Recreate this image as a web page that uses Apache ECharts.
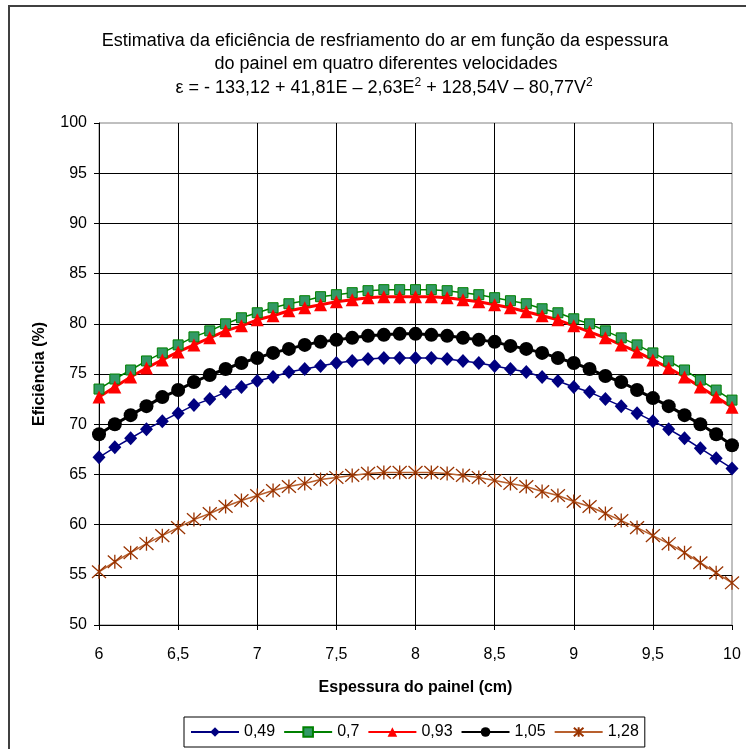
<!DOCTYPE html>
<html>
<head>
<meta charset="utf-8">
<style>
html,body{margin:0;padding:0;background:#fff;}
#chart{width:746px;height:749px;}
</style>
<script src="https://cdn.jsdelivr.net/npm/echarts@6/dist/echarts.min.js"></script>
</head>
<body>
<div id="chart"></div>
<script>
var thickness = [6.0,6.1,6.2,6.3,6.4,6.5,6.6,6.7,6.8,6.9,7.0,7.1,7.2,7.3,7.4,7.5,7.6,7.7,7.8,7.9,8.0,8.1,8.2,8.3,8.4,8.5,8.6,8.7,8.8,8.9,9.0,9.1,9.2,9.3,9.4,9.5,9.6,9.7,9.8,9.9,10.0];
var seriesNames = ['0,49','0,7','0,93','1,05','1,28'];
var v049 = [66.7,67.7,68.6,69.5,70.3,71.1,71.9,72.5,73.2,73.7,74.3,74.7,75.2,75.5,75.8,76.1,76.3,76.5,76.6,76.6,76.6,76.6,76.5,76.3,76.1,75.8,75.5,75.2,74.7,74.3,73.7,73.2,72.5,71.8,71.1,70.3,69.5,68.6,67.6,66.6,65.6];
var v070 = [73.5,74.5,75.4,76.3,77.1,77.9,78.7,79.3,80.0,80.6,81.1,81.6,82.0,82.3,82.7,82.9,83.1,83.3,83.4,83.4,83.4,83.4,83.3,83.1,82.9,82.6,82.3,82.0,81.5,81.1,80.5,80.0,79.3,78.6,77.9,77.1,76.3,75.4,74.4,73.4,72.4];
var v093 = [72.7,73.7,74.7,75.6,76.4,77.2,77.9,78.6,79.3,79.8,80.4,80.8,81.3,81.6,81.9,82.2,82.4,82.6,82.7,82.7,82.7,82.7,82.6,82.4,82.2,81.9,81.6,81.2,80.8,80.4,79.8,79.2,78.6,77.9,77.2,76.4,75.6,74.7,73.7,72.7,71.7];
var v105 = [69.0,70.0,70.9,71.8,72.7,73.4,74.2,74.9,75.5,76.1,76.6,77.1,77.5,77.9,78.2,78.4,78.6,78.8,78.9,79.0,79.0,78.9,78.8,78.6,78.4,78.2,77.8,77.5,77.1,76.6,76.1,75.5,74.8,74.2,73.4,72.6,71.8,70.9,70.0,69.0,67.9];
var v128 = [55.3,56.3,57.2,58.1,58.9,59.7,60.5,61.1,61.8,62.4,62.9,63.4,63.8,64.1,64.5,64.7,64.9,65.1,65.2,65.2,65.2,65.2,65.1,64.9,64.7,64.4,64.1,63.8,63.3,62.9,62.3,61.8,61.1,60.4,59.7,58.9,58.1,57.2,56.2,55.2,54.2];
var xTicks = [6,6.5,7,7.5,8,8.5,9,9.5,10];
var yTicks = [50,55,60,65,70,75,80,85,90,95,100];

function pairs(arr){ return thickness.map(function(x,i){ return [x, arr[i]]; }); }
function comma(v){ return String(v).replace('.', ','); }

var FONT = "'Liberation Sans', Arial, sans-serif";
var star = 'path://M0,-10 L0,10 M-9,-9 L9,9 M-9,9 L9,-9';

var chart = echarts.init(document.getElementById('chart'), null, {renderer:'canvas'});
chart.setOption({
  backgroundColor: '#fff',
  animation: false,
  textStyle: {fontFamily: FONT},
  graphic: [{
    type: 'rect', shape: {x: 9, y: 6, width: 760, height: 760},
    style: {fill: 'none', stroke: '#404040', lineWidth: 2}, z: 100
  }],
  title: [
    {text: 'Estimativa da eficiência de resfriamento do ar em função da espessura', left: 380, top: 27, textAlign: 'center',
     textStyle: {fontFamily: FONT, fontSize: 18, fontWeight: 'normal', color: '#000'}},
    {text: 'do painel em quatro diferentes velocidades', left: 381, top: 50, textAlign: 'center',
     textStyle: {fontFamily: FONT, fontSize: 18, fontWeight: 'normal', color: '#000'}},
    {text: 'ε = - 133,12 + 41,81E – 2,63E{s|2} + 128,54V – 80,77V{s|2}', left: 379, top: 72, textAlign: 'center',
     textStyle: {fontFamily: FONT, fontSize: 18, fontWeight: 'normal', color: '#000',
       rich: {s: {fontFamily: FONT, fontSize: 12, verticalAlign: 'top', padding: [0,0,10,0], color: '#000'}}}}
  ],
  grid: {left: 99, right: 14, top: 123, bottom: 124, containLabel: false,
         show: true, borderColor: '#808080', borderWidth: 1},
  legend: {
    data: seriesNames, left: 184, top: 717, orient: 'horizontal',
    itemWidth: 48, itemHeight: 12, itemGap: 8,
    padding: [7, 6, 7, 6], borderColor: '#000', borderWidth: 1, backgroundColor: '#fff',
    textStyle: {fontFamily: FONT, fontSize: 16, color: '#000'}
  },
  xAxis: {
    type: 'value', min: 6, max: 10, interval: 0.5,
    name: 'Espessura do painel (cm)', nameLocation: 'middle', nameGap: 55,
    nameTextStyle: {fontFamily: FONT, fontSize: 16, fontWeight: 'bold', color: '#000'},
    axisLine: {show: true, lineStyle: {color: '#000', width: 1}},
    axisTick: {show: true, length: 5, inside: false, lineStyle: {color: '#000'}},
    axisLabel: {margin: 22, fontFamily: FONT, fontSize: 16, color: '#000', formatter: function(v){ return comma(v); }},
    splitLine: {show: true, showMaxLine: false, lineStyle: {color: '#000', width: 1}}
  },
  yAxis: {
    type: 'value', min: 50, max: 100, interval: 5,
    name: 'Eficiência (%)', nameLocation: 'middle', nameGap: 51, nameRotate: 90,
    nameTextStyle: {fontFamily: FONT, fontSize: 16, fontWeight: 'bold', color: '#000'},
    axisLine: {show: true, lineStyle: {color: '#000', width: 1}},
    axisTick: {show: true, length: 5, lineStyle: {color: '#000'}},
    axisLabel: {margin: 12, fontFamily: FONT, fontSize: 16, color: '#000'},
    splitLine: {show: true, showMaxLine: false, lineStyle: {color: '#000', width: 1}}
  },
  series: [
    {name: seriesNames[0], type: 'line', data: pairs(v049), symbol: 'diamond', symbolSize: [13,14],
     lineStyle: {color: '#000080', width: 1.5}, itemStyle: {color: '#000080'}},
    {name: seriesNames[1], type: 'line', data: pairs(v070), symbol: 'rect', symbolSize: 10,
     lineStyle: {color: '#008000', width: 1.5}, itemStyle: {color: '#339966', borderColor: '#008000', borderWidth: 1}},
    {name: seriesNames[2], type: 'line', data: pairs(v093), symbol: 'triangle', symbolSize: 13,
     lineStyle: {color: '#FF0000', width: 3}, itemStyle: {color: '#FF0000'}},
    {name: seriesNames[3], type: 'line', data: pairs(v105), symbol: 'circle', symbolSize: 14,
     lineStyle: {color: '#000', width: 3}, itemStyle: {color: '#000'}},
    {name: seriesNames[4], type: 'line', data: pairs(v128), symbol: star, symbolSize: 14,
     lineStyle: {color: '#B8602E', width: 1.5}, itemStyle: {color: '#993300', borderColor: '#993300', borderWidth: 1.3}}
  ]
});
</script>
</body>
</html>
